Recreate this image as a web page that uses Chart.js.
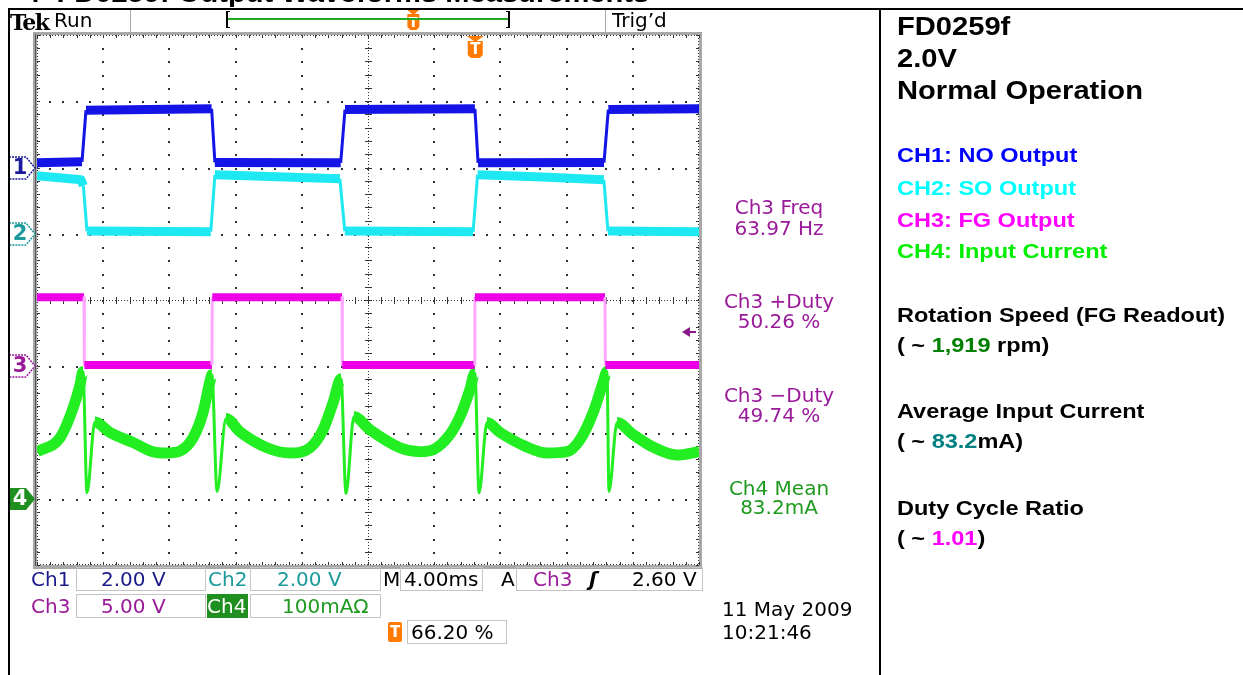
<!DOCTYPE html>
<html>
<head>
<meta charset="utf-8">
<title>FD0259f Output Waveforms Measurements</title>
<script src="https://cdn.jsdelivr.net/npm/chart.js@4.4.1/dist/chart.umd.min.js"></script>
<style>
  html, body { margin: 0; padding: 0; background: #fff; }
  body { width: 1243px; height: 675px; position: relative; overflow: hidden;
         font-family: "Liberation Sans", Arial, sans-serif; }
  canvas { position: absolute; left: 0; top: 0; }
  .t { position: absolute; white-space: nowrap; line-height: 1; }
  .dv { font-family: "DejaVu Sans", sans-serif; font-size: 20px; line-height: 20px; }
  .meas { width: 180px; margin-left: -90px; text-align: center; color: #9a1a9a; }
  .box { position: absolute; border: 1px solid #c4c4c4; box-sizing: border-box; }
  .line { position: absolute; background: #000; }
  .gline { position: absolute; background: #a8a8a8; }
  .side { font-weight: bold; font-size: 21px; line-height: 21px; }
  .side span, .head span { display: inline-block; transform: scaleX(1.12); transform-origin: 0 0; }
  .head { font-weight: bold; font-size: 26px; line-height: 26px; color: #000; }
</style>
</head>
<body>
<canvas id="scope" width="1243" height="675"></canvas>

<!-- page frame -->
<div class="t head" style="left:24px; top:-20px;"><span>4&nbsp;&nbsp;FD0259f Output Waveforms Measurements</span></div>
<div class="line" style="left:8px; top:8px; width:1235px; height:2px;"></div>
<div class="line" style="left:8px; top:8px; width:2px; height:667px;"></div>
<div class="line" style="left:879px; top:8px; width:2px; height:667px;"></div>

<!-- scope header -->
<div class="t" style="left:10px; top:11px; font-family:'DejaVu Serif','Liberation Serif',serif; font-weight:bold; font-size:22px; letter-spacing:-1.5px;">Tek</div>
<div class="t dv" style="left:54px; top:10px;">Run</div>
<div class="gline" style="left:130px; top:10px; width:1px; height:22px;"></div>
<div class="gline" style="left:605px; top:10px; width:1px; height:22px;"></div>
<div class="t dv" style="left:612px; top:10px;">Trig’d</div>
<div class="line" style="left:226px; top:11px; width:2px; height:17px;"></div>
<div class="line" style="left:226px; top:11px; width:4px; height:1px;"></div>
<div class="line" style="left:226px; top:27px; width:4px; height:1px;"></div>
<div class="line" style="left:508px; top:11px; width:2px; height:17px;"></div>
<div class="line" style="left:506px; top:11px; width:4px; height:1px;"></div>
<div class="line" style="left:506px; top:27px; width:4px; height:1px;"></div>
<div class="line" style="left:228px; top:18px; width:280px; height:2px; background:#22aa22;"></div>

<!-- measurement readouts -->
<div class="t dv meas" style="left:779px; top:197px;">Ch3 Freq</div>
<div class="t dv meas" style="left:779px; top:218px;">63.97 Hz</div>
<div class="t dv meas" style="left:779px; top:291px;">Ch3 +Duty</div>
<div class="t dv meas" style="left:779px; top:311px;">50.26 %</div>
<div class="t dv meas" style="left:779px; top:385px;">Ch3 −Duty</div>
<div class="t dv meas" style="left:779px; top:405px;">49.74 %</div>
<div class="t dv meas" style="left:779px; top:478px; color:#1f9a1f;">Ch4 Mean</div>
<div class="t dv meas" style="left:779px; top:497px; color:#1f9a1f;">83.2mA</div>

<!-- bottom readouts -->
<div class="box" style="left:76px; top:567px; width:130px; height:24px;"></div>
<div class="box" style="left:250px; top:567px; width:131px; height:24px;"></div>
<div class="box" style="left:400px; top:567px; width:83px; height:24px;"></div>
<div class="box" style="left:516px; top:567px; width:187px; height:24px;"></div>
<div class="box" style="left:76px; top:594px; width:130px; height:24px;"></div>
<div class="box" style="left:250px; top:594px; width:131px; height:24px;"></div>
<div class="box" style="left:407px; top:620px; width:100px; height:24px;"></div>
<div class="t dv" style="left:31px; top:569px; color:#1a1a8a;">Ch1</div>
<div class="t dv" style="left:101px; top:569px; color:#1a1a8a;">2.00 V</div>
<div class="t dv" style="left:208px; top:569px; color:#1a9a9a;">Ch2</div>
<div class="t dv" style="left:277px; top:569px; color:#1a9a9a;">2.00 V</div>
<div class="t dv" style="left:383px; top:569px;">M</div>
<div class="t dv" style="left:404px; top:569px;">4.00ms</div>
<div class="t dv" style="left:501px; top:569px;">A</div>
<div class="t dv" style="left:533px; top:569px; color:#9a1a9a;">Ch3</div>
<div class="t dv" style="left:589px; top:569px; font-style:italic; font-weight:bold;">ʃ</div>
<div class="t dv" style="left:632px; top:569px;">2.60 V</div>
<div class="t dv" style="left:31px; top:596px; color:#9a1a9a;">Ch3</div>
<div class="t dv" style="left:101px; top:596px; color:#9a1a9a;">5.00 V</div>
<div class="t dv" style="left:207px; top:594px; width:41px; height:24px; padding-top:2px; box-sizing:border-box; background:#1f8f1f; color:#fff;">Ch4</div>
<div class="t dv" style="left:282px; top:596px; color:#1f9a1f;">100mAΩ</div>
<div class="t dv" style="left:388px; top:622px; width:14px; height:20px; background:#ff7a00; color:#fff; font-size:15px; font-weight:bold; text-align:center; border-radius:2px;">T</div>
<div class="t dv" style="left:411px; top:622px;">66.20 %</div>
<div class="t dv" style="left:722px; top:599px;">11 May 2009</div>
<div class="t dv" style="left:722px; top:622px;">10:21:46</div>

<!-- side notes -->
<div class="t head" style="left:897px; top:13px;"><span>FD0259f</span></div>
<div class="t head" style="left:897px; top:45px;"><span>2.0V</span></div>
<div class="t head" style="left:897px; top:77px;"><span>Normal Operation</span></div>
<div class="t side" style="left:897px; top:144px; color:#0000ff;"><span>CH1: NO Output</span></div>
<div class="t side" style="left:897px; top:177px; color:#00ffff;"><span>CH2: SO Output</span></div>
<div class="t side" style="left:897px; top:209px; color:#ff00ff;"><span>CH3: FG Output</span></div>
<div class="t side" style="left:897px; top:240px; color:#00ee00;"><span>CH4: Input Current</span></div>
<div class="t side" style="left:897px; top:304px;"><span>Rotation Speed (FG Readout)</span></div>
<div class="t side" style="left:897px; top:334px;"><span>( ~ <b style="color:#008000">1,919</b> rpm)</span></div>
<div class="t side" style="left:897px; top:400px;"><span>Average Input Current</span></div>
<div class="t side" style="left:897px; top:430px;"><span>( ~ <b style="color:#008080">83.2</b>mA)</span></div>
<div class="t side" style="left:897px; top:497px;"><span>Duty Cycle Ratio</span></div>
<div class="t side" style="left:897px; top:527px;"><span>( ~ <b style="color:#ff00ff">1.01</b>)</span></div>

<script>
// time base: 4 ms/div over 10 divisions, trigger at 66.20 % of the record
var msPerDiv = 4;
var timeMax = 40;
var triggerTime = 26.48;
var triggerLevel = 2.60;   // Ch3, volts
var recordTrigger = 0.662;

// vertical settings: units per division and ground marker position (divisions from centre)
var chLabels = ['1', '2', '3', '4'];
var chPerDiv = [2, 2, 5, 100];
var chGround = [2, 1, -1, -3];

// Ch1 NO output (V)
var ch1Time = [0, 2.72, 2.96, 10.55, 10.75, 18.35, 18.61, 26.46, 26.65, 34.26, 34.52, 40];
var ch1Volt = [0.14, 0.17, 1.73, 1.77, 0.15, 0.14, 1.75, 1.77, 0.14, 0.15, 1.75, 1.77];

// Ch2 SO output (V)
var ch2Time = [0, 2.66, 2.80, 3.02, 10.50, 10.75, 14.5, 18.30, 18.60, 26.35, 26.62, 30.5, 34.25, 34.50, 40];
var ch2Volt = [1.75, 1.63, 1.45, 0.08, 0.06, 1.78, 1.72, 1.66, 0.08, 0.06, 1.78, 1.71, 1.63, 0.08, 0.06];

// Ch3 FG output (V)
var ch3Time = [0, 2.84, 2.86, 10.57, 10.59, 18.43, 18.45, 26.44, 26.46, 34.32, 34.34, 40];
var ch3Volt = [5.2, 5.2, 0.1, 0.1, 5.2, 5.2, 0.1, 0.1, 5.2, 5.2, 0.1, 0.1];

// Ch4 input current (mA)
var ch4Time = [0, 1.39, 2.18, 2.60, 2.78, 3.02, 3.50, 4.41, 5.80, 7.01, 7.85, 8.64, 9.43, 10.03, 10.45, 10.57,
               10.88, 11.42, 12.27, 13.90, 15.29, 16.50, 17.28, 17.89, 18.37, 18.67, 19.15, 20.12, 21.93, 23.14,
               23.93, 24.95, 25.56, 26.16, 26.46, 26.71, 27.19, 27.98, 29.61, 30.82, 32.02, 32.81, 33.60, 34.20,
               34.44, 34.56, 35.05, 36.01, 37.22, 38.67, 40];
var ch4Amps = [71, 92, 137, 172, 192, 9, 116, 100, 85, 71, 69, 72, 92, 130, 177, 187,
               11, 121, 101, 77, 69, 77, 104, 145, 181, 8, 124, 104, 77, 71,
               74, 97, 124, 165, 190, 9, 115, 100, 78, 69, 71, 89, 130, 175,
               192, 11, 115, 97, 78, 66, 71];

var traceColors = ['#1414e6', '#1ee8f2', '#ee00e6', '#22ee22'];
var edgeColors  = ['#1414e6', '#1ee8f2', '#ffa8ff', '#22ee22'];
var markerColors = ['#1a1a9a', '#1a9a9a', '#9a1a9a', '#1f8f1f'];

function pairs(xs, ys) {
  return xs.map(function (x, i) { return {x: x, y: ys[i]}; });
}

function steep(c) {
  return Math.abs(c.p1.x - c.p0.x) * 5 < Math.abs(c.p1.y - c.p0.y);
}

function makeTrace(i, times, vals, thick, smooth) {
  return {
    label: 'Ch' + (i + 1),
    data: pairs(times, vals),
    yAxisID: 'y' + (i + 1),
    borderColor: traceColors[i],
    borderWidth: thick,
    pointRadius: 0,
    tension: 0,
    cubicInterpolationMode: smooth ? 'monotone' : 'default',
    borderJoinStyle: 'round',
    segment: {
      borderWidth: function (c) { return steep(c) ? 3 : thick; },
      borderColor: function (c) { return steep(c) ? edgeColors[i] : traceColors[i]; }
    }
  };
}

var yScales = {};
for (var i = 0; i < 4; i++) {
  yScales['y' + (i + 1)] = {
    type: 'linear', display: false,
    min: (-4 - chGround[i]) * chPerDiv[i],
    max: (4 - chGround[i]) * chPerDiv[i]
  };
}
yScales.yDiv = {type: 'linear', display: false, min: -4, max: 4};

function flag(ctx, y, n) {
  var top = y - 11, bot = y + 11, left = 9, tip = 35;
  ctx.beginPath();
  ctx.moveTo(left, top);
  ctx.lineTo(tip - 9, top);
  ctx.lineTo(tip, y);
  ctx.lineTo(tip - 9, bot);
  ctx.lineTo(left, bot);
  ctx.closePath();
  if (n === 3) {
    ctx.fillStyle = markerColors[n];
    ctx.fill();
  } else {
    ctx.fillStyle = '#fff';
    ctx.fill();
    ctx.setLineDash([2, 1]);
    ctx.strokeStyle = markerColors[n];
    ctx.lineWidth = 1.5;
    ctx.stroke();
    ctx.setLineDash([]);
  }
  ctx.fillStyle = n === 3 ? '#fff' : markerColors[n];
  ctx.font = 'bold 21px "DejaVu Sans"';
  ctx.textAlign = 'center';
  ctx.textBaseline = 'middle';
  ctx.fillText(chLabels[n], 20, y + 1);
}

function tMarker(ctx, x, top, w, h) {
  ctx.fillStyle = '#ff7a00';
  ctx.beginPath();
  ctx.moveTo(x - w / 2 - 1, top);
  ctx.lineTo(x + w / 2 + 1, top);
  ctx.lineTo(x, top + 6);
  ctx.closePath();
  ctx.fill();
  ctx.beginPath();
  ctx.moveTo(x - w / 2, top + 5);
  ctx.lineTo(x + w / 2, top + 5);
  ctx.lineTo(x + w / 2, top + h - 3);
  ctx.lineTo(x + w / 2 - 3, top + h);
  ctx.lineTo(x - w / 2 + 3, top + h);
  ctx.lineTo(x - w / 2, top + h - 3);
  ctx.closePath();
  ctx.fill();
  ctx.fillStyle = '#fff';
  ctx.font = 'bold ' + (h - 7) + 'px "DejaVu Sans"';
  ctx.textAlign = 'center';
  ctx.textBaseline = 'middle';
  ctx.fillText('T', x, top + 5 + (h - 5) / 2 + 1);
}

var scopeGrid = {
  id: 'scopeGrid',
  beforeDatasetsDraw: function (chart) {
    var ctx = chart.ctx, a = chart.chartArea;
    var xs = chart.scales.x, yd = chart.scales.yDiv;
    ctx.save();
    // bezel
    ctx.fillStyle = '#a8a8a8';
    ctx.fillRect(a.left - 4, a.top - 3, a.right - a.left + 7, 3);
    ctx.fillRect(a.left - 4, a.bottom, a.right - a.left + 7, 4);
    ctx.fillRect(a.left - 4, a.top - 3, 4, a.bottom - a.top + 7);
    ctx.fillRect(a.right, a.top - 3, 3, a.bottom - a.top + 7);
    ctx.fillStyle = '#555';
    ctx.fillRect(a.left - 2, a.top - 1, 1, a.bottom - a.top + 2);

    ctx.fillStyle = '#333';
    var k, j, x, y;
    // dotted edges with minor ticks
    for (j = 0; j <= 50; j++) {
      x = Math.round(xs.getPixelForValue(j * msPerDiv / 5));
      ctx.fillRect(x, a.top, 1, 3);
      ctx.fillRect(x, a.bottom - 3, 1, 3);
    }
    for (j = 0; j <= 40; j++) {
      y = Math.round(yd.getPixelForValue(-4 + j * 0.2));
      ctx.fillRect(a.left, y, 3, 1);
      ctx.fillRect(a.right - 3, y, 3, 1);
    }
    for (x = a.left; x < a.right; x += 3) {
      ctx.fillRect(x, a.top, 1, 1);
      ctx.fillRect(x, a.bottom - 1, 1, 1);
    }
    for (y = a.top; y < a.bottom; y += 3) {
      ctx.fillRect(a.left, y, 1, 1);
      ctx.fillRect(a.right - 1, y, 1, 1);
    }
    // division dots, centre lines with ticks
    for (k = 1; k < 10; k++) {
      x = Math.round(xs.getPixelForValue(k * msPerDiv));
      for (j = 1; j < 40; j++) {
        y = Math.round(yd.getPixelForValue(-4 + j * 0.2));
        if (k === 5) ctx.fillRect(x - 3, y, 7, 1);
        else ctx.fillRect(x - 1, y, 2, 2);
      }
      if (k === 5) {
        for (y = a.top; y < a.bottom; y += 3) ctx.fillRect(x, y, 1, 1);
      }
    }
    for (k = 1; k < 8; k++) {
      y = Math.round(yd.getPixelForValue(-4 + k));
      for (j = 1; j < 50; j++) {
        x = Math.round(xs.getPixelForValue(j * msPerDiv / 5));
        if (k === 4) ctx.fillRect(x, y - 3, 1, 7);
        else ctx.fillRect(x - 1, y, 2, 2);
      }
      if (k === 4) {
        for (x = a.left; x < a.right; x += 3) ctx.fillRect(x, y, 1, 1);
      }
    }
    ctx.restore();
  },
  afterDatasetsDraw: function (chart) {
    var ctx = chart.ctx, a = chart.chartArea;
    ctx.save();
    for (var n = 0; n < 4; n++) {
      flag(ctx, Math.round(chart.scales['y' + (n + 1)].getPixelForValue(0)), n);
    }
    // trigger position markers
    tMarker(ctx, chart.scales.x.getPixelForValue(triggerTime), a.top + 1, 15, 22);
    tMarker(ctx, 228 + recordTrigger * 280, 9, 12, 21);
    // trigger level on Ch3
    var ty = Math.round(chart.scales.y3.getPixelForValue(triggerLevel));
    ctx.fillStyle = '#8a1a8a';
    ctx.beginPath();
    ctx.moveTo(a.right - 17, ty);
    ctx.lineTo(a.right - 9, ty - 5);
    ctx.lineTo(a.right - 9, ty + 5);
    ctx.closePath();
    ctx.fill();
    ctx.fillRect(a.right - 10, ty - 1, 7, 2);
    ctx.restore();
  }
};

var chart = new Chart(document.getElementById('scope').getContext('2d'), {
  type: 'line',
  data: {
    datasets: [
      makeTrace(0, ch1Time, ch1Volt, 9, false),
      makeTrace(1, ch2Time, ch2Volt, 9, false),
      makeTrace(2, ch3Time, ch3Volt, 8, false),
      makeTrace(3, ch4Time, ch4Amps, 11, true)
    ]
  },
  options: {
    responsive: false,
    animation: false,
    layout: { padding: { left: 37, top: 35, right: 544, bottom: 110 } },
    scales: Object.assign({
      x: { type: 'linear', display: false, min: 0, max: timeMax }
    }, yScales),
    plugins: { legend: { display: false }, tooltip: { enabled: false } }
  },
  plugins: [scopeGrid]
});
</script>
</body>
</html>
